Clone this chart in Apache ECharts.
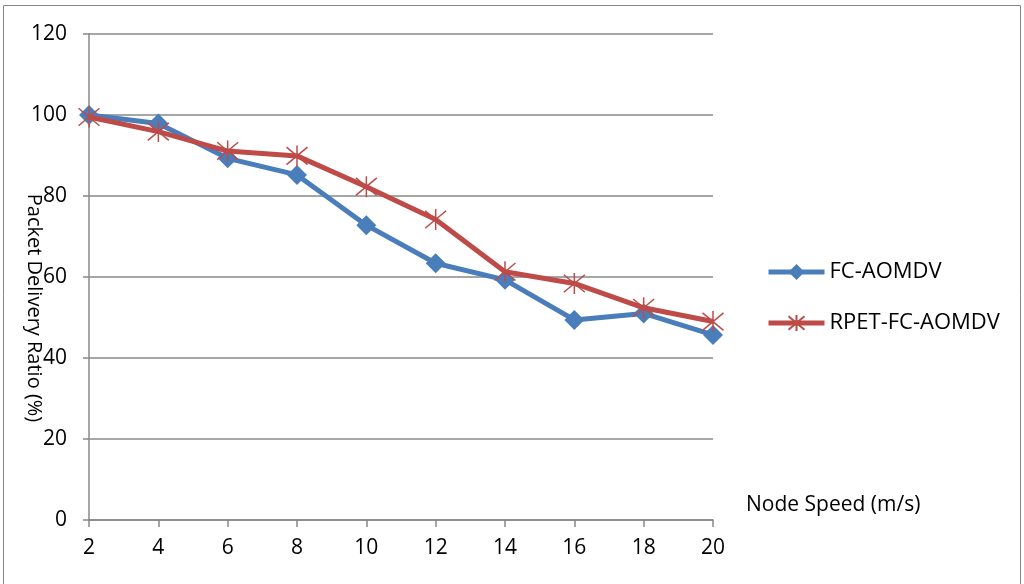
<!DOCTYPE html>
<html>
<head>
<meta charset="utf-8">
<script src="https://cdn.jsdelivr.net/npm/echarts@6/dist/echarts.min.js"></script>
<style>
  html, body { margin: 0; padding: 0; background: #fff; }
  #chart { width: 1024px; height: 584px; }
</style>
</head>
<body>
<div id="chart"></div>
<script>
const speeds = ['2', '4', '6', '8', '10', '12', '14', '16', '18', '20'];
const fcAomdv = [100, 97.9, 89.3, 85.2, 72.8, 63.4, 59.3, 49.4, 51.0, 45.7];
const rpetFcAomdv = [99.5, 95.9, 91.1, 89.9, 82.3, 74.2, 61.3, 58.4, 52.4, 49.0];

const font = '"Open Sans", "Noto Sans", sans-serif';
const gray = '#888888';
const starPath = 'path://M0 0 L10 10 M10 0 L0 10 M5 -1 L5 11';

const chart = echarts.init(document.getElementById('chart'));
const option = {
  animation: false,
  textStyle: { fontFamily: font, color: '#000' },
  grid: { left: 89, right: 311, top: 34, bottom: 64 },
  legend: {
    orient: 'vertical',
    left: 766,
    top: 261,
    padding: 0,
    itemWidth: 56,
    itemHeight: 20,
    itemGap: 29,
    lineStyle: { width: 5 },
    textStyle: { fontSize: 22, fontFamily: font, color: '#000' },
    data: ['FC-AOMDV', 'RPET-FC-AOMDV'],
  },
  xAxis: {
    type: 'category',
    boundaryGap: false,
    data: speeds,
    axisLine: { lineStyle: { color: gray, width: 1.5 } },
    axisTick: { show: true, length: 7, lineStyle: { color: gray, width: 1.5 } },
    axisLabel: { fontSize: 21, color: '#000', margin: 18, fontFamily: font },
    splitLine: { show: false },
  },
  yAxis: {
    type: 'value',
    min: 0,
    max: 120,
    interval: 20,
    axisLine: { show: true, lineStyle: { color: gray, width: 1.5 } },
    axisTick: { show: true, length: 6, lineStyle: { color: gray, width: 1.5 } },
    axisLabel: { fontSize: 21, color: '#000', margin: 22, fontFamily: font },
    splitLine: { show: true, lineStyle: { color: gray, width: 1.5 } },
  },
  graphic: [
    {
      type: 'rect',
      shape: { x: 3.5, y: 5.5, width: 1017, height: 620 },
      style: { fill: 'none', stroke: gray, lineWidth: 1 },
      silent: true,
    },
    {
      type: 'text',
      x: 34,
      y: 308,
      rotation: -Math.PI / 2,
      style: {
        text: 'Packet Delivery Ratio (%)',
        font: '20px ' + font,
        fill: '#000',
        align: 'center',
        verticalAlign: 'middle',
      },
    },
    {
      type: 'text',
      x: 746,
      y: 505,
      style: {
        text: 'Node Speed (m/s)',
        font: '21px ' + font,
        fill: '#000',
        align: 'left',
        verticalAlign: 'middle',
      },
    },
  ],
  series: [
    {
      name: 'FC-AOMDV',
      type: 'line',
      data: fcAomdv,
      symbol: 'diamond',
      symbolSize: 20,
      showAllSymbol: true,
      lineStyle: { color: '#4a7ebb', width: 5 },
      itemStyle: { color: '#4a7ebb' },
      z: 2,
    },
    {
      name: 'RPET-FC-AOMDV',
      type: 'line',
      data: rpetFcAomdv,
      symbol: starPath,
      symbolSize: 21,
      showAllSymbol: true,
      lineStyle: { color: '#be4b48', width: 5 },
      itemStyle: { color: 'rgba(0,0,0,0)', borderColor: '#be4b48', borderWidth: 1.5 },
      z: 3,
    },
  ],
};
chart.setOption(option);
</script>
</body>
</html>
